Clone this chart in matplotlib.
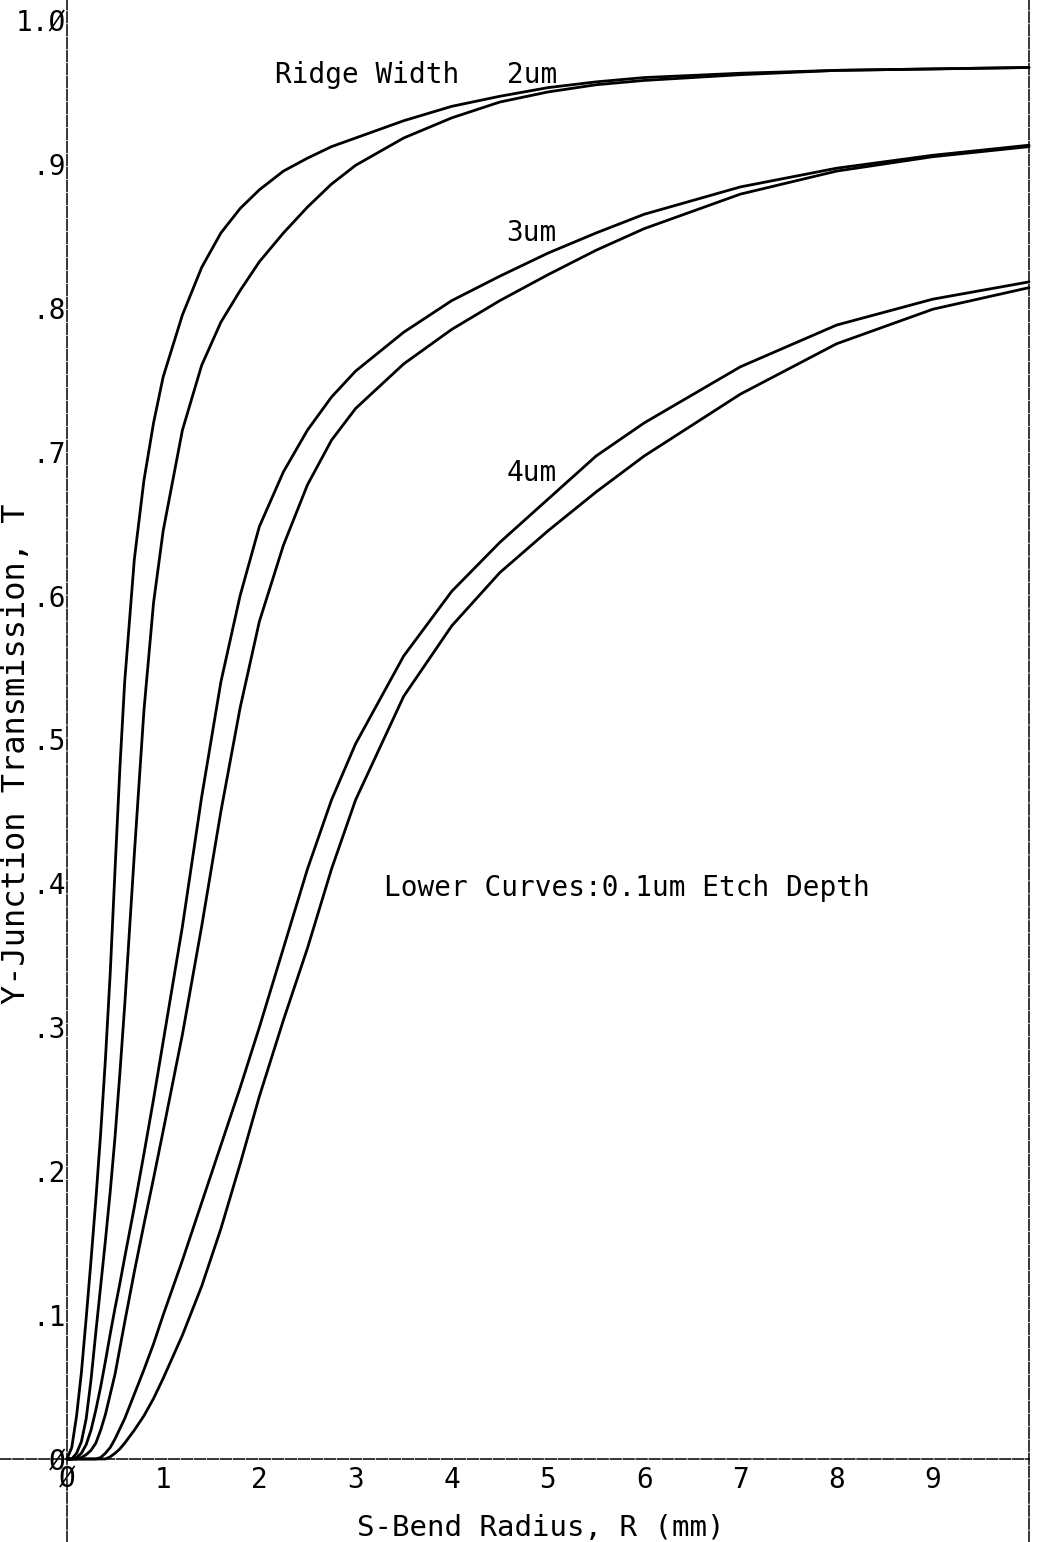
import matplotlib
matplotlib.use("Agg")
import matplotlib.pyplot as plt

# ---------------- data ----------------
# S-bend radius R (mm), shared by all six curves
R = [0, 0.05, 0.1, 0.15, 0.2, 0.25, 0.3, 0.35, 0.4, 0.45, 0.5, 0.55, 0.6, 0.7, 0.8, 0.9,
     1.0, 1.2, 1.4, 1.6, 1.8, 2.0, 2.25, 2.5, 2.75, 3.0, 3.5, 4.0, 4.5, 5.0, 5.5, 6.0,
     7.0, 8.0, 9.0, 10.0]

# Ridge width 2um (upper curve, lower curve = 0.1um etch depth)
T_2um_upper = [0, 0.008, 0.03, 0.06, 0.098, 0.138, 0.18, 0.226, 0.278, 0.338, 0.41, 0.48, 0.54, 0.625, 0.68, 0.72,
               0.752, 0.795, 0.828, 0.852, 0.869, 0.882, 0.895, 0.904, 0.912, 0.918, 0.93, 0.94, 0.947, 0.953, 0.957, 0.96,
               0.963, 0.965, 0.966, 0.967]
T_2um_lower = [0, 0.0, 0.004, 0.012, 0.028, 0.055, 0.088, 0.12, 0.152, 0.186, 0.224, 0.268, 0.315, 0.42, 0.52, 0.595,
               0.645, 0.715, 0.76, 0.79, 0.812, 0.832, 0.852, 0.87, 0.886, 0.899, 0.918, 0.932, 0.943, 0.95, 0.955, 0.958,
               0.962, 0.965, 0.966, 0.967]
# Ridge width 3um
T_3um_upper = [0, 0.0, 0.001, 0.004, 0.01, 0.02, 0.034, 0.05, 0.068, 0.087, 0.105, 0.122, 0.14, 0.175, 0.212, 0.25,
               0.29, 0.37, 0.46, 0.54, 0.60, 0.648, 0.686, 0.715, 0.738, 0.756, 0.783, 0.805, 0.822, 0.838, 0.852, 0.865,
               0.884, 0.897, 0.906, 0.913]
T_3um_lower = [0, 0.0, 0.0, 0.001, 0.003, 0.006, 0.011, 0.02, 0.031, 0.045, 0.059, 0.077, 0.095, 0.13, 0.163, 0.195,
               0.228, 0.295, 0.37, 0.45, 0.522, 0.582, 0.635, 0.677, 0.708, 0.73, 0.761, 0.785, 0.805, 0.823, 0.84, 0.855,
               0.879, 0.895, 0.905, 0.912]
# Ridge width 4um
T_4um_upper = [0, 0.0, 0.0, 0.0, 0.0, 0.0, 0.0, 0.001, 0.004, 0.008, 0.014, 0.021, 0.028, 0.045, 0.062, 0.08,
               0.10, 0.138, 0.178, 0.218, 0.258, 0.30, 0.355, 0.41, 0.458, 0.497, 0.558, 0.603, 0.637, 0.667, 0.697, 0.72,
               0.759, 0.788, 0.806, 0.818]
T_4um_lower = [0, 0.0, 0.0, 0.0, 0.0, 0.0, 0.0, 0.0, 0.0, 0.0015, 0.004, 0.007, 0.011, 0.02, 0.03, 0.042,
               0.056, 0.086, 0.12, 0.16, 0.205, 0.252, 0.305, 0.355, 0.41, 0.458, 0.53, 0.579, 0.616, 0.645, 0.672, 0.697,
               0.74, 0.775, 0.799, 0.814]

curves = [T_2um_upper, T_2um_lower, T_3um_upper, T_3um_lower, T_4um_upper, T_4um_lower]

x_ticks = [0, 1, 2, 3, 4, 5, 6, 7, 8, 9]
x_tick_labels = ["Ø", "1", "2", "3", "4", "5", "6", "7", "8", "9"]
y_ticks = [0.0, 0.1, 0.2, 0.3, 0.4, 0.5, 0.6, 0.7, 0.8, 0.9, 1.0]
y_tick_labels = ["Ø", ".1", ".2", ".3", ".4", ".5", ".6", ".7", ".8", ".9", "1.Ø"]

width_labels = ["2um", "3um", "4um"]
width_label_T = [0.962, 0.852, 0.685]

# ---------------- figure ----------------
FONT = "DejaVu Sans Mono"
plt.rcParams["font.family"] = [FONT, "DejaVu Sans"]
fig = plt.figure(figsize=(10.42, 15.42), dpi=100)
ax = fig.add_axes([0, 0, 1, 1])
ax.set_xlim(-0.696, 10.135)
ax.set_ylim(-0.0577, 1.0139)
ax.patch.set_alpha(0)

for T in curves:
    ax.plot(R, T, color="black", lw=2.0, solid_capstyle="round", solid_joinstyle="round")

# axes lines (dashed, plotter style)
ax.spines["top"].set_visible(False)
ax.spines["left"].set_position(("data", 0))
ax.spines["bottom"].set_position(("data", 0))
ax.spines["right"].set_position(("data", 10))
ax.spines["bottom"].set_bounds(-0.696, 10)
for side in ["left", "bottom", "right"]:
    ax.spines[side].set_linestyle((0, (7, 1.5)))
    ax.spines[side].set_linewidth(1.1)

ax.set_xticks(x_ticks)
ax.set_xticklabels(x_tick_labels)
ax.set_yticks(y_ticks)
ax.set_yticklabels(y_tick_labels)
ax.tick_params(axis="both", length=0, labelsize=20)
ax.tick_params(axis="x", pad=5)
ax.tick_params(axis="y", pad=1)
ax.tick_params(right=False, labelright=False)

# annotations
ax.text(2.16, width_label_T[0], "Ridge Width", fontsize=20, ha="left", va="center")
for lab, t in zip(width_labels, width_label_T):
    ax.text(4.57, t, lab, fontsize=20, ha="left", va="center")
ax.text(3.30, 0.397, "Lower Curves:0.1um Etch Depth", fontsize=20, ha="left", va="center")

fig.text(0.519, 1 - 1536 / 1542, "S-Bend Radius, R (mm)", fontsize=21, ha="center", va="baseline")
fig.text(0.0155, 0.511, "Y-Junction Transmission, T", fontsize=23, ha="center", va="center", rotation=90)

fig.savefig("out.png", dpi=100)
